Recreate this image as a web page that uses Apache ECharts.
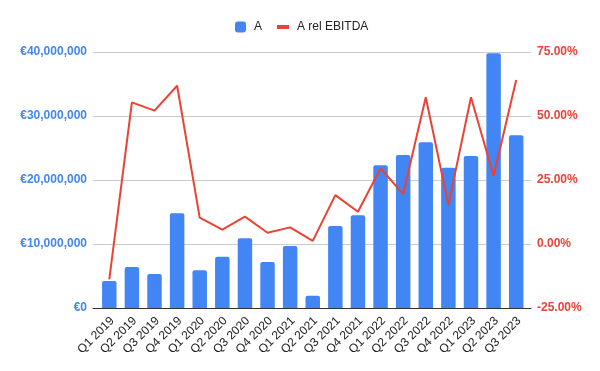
<!DOCTYPE html>
<html><head><meta charset="utf-8">
<script src="https://cdn.jsdelivr.net/npm/echarts@6/dist/echarts.min.js"></script>
<style>html,body{margin:0;padding:0;background:#fff}#c{width:600px;height:371px}</style>
</head><body><div id="c"></div>
<script>
const categories = ['Q1 2019','Q2 2019','Q3 2019','Q4 2019','Q1 2020','Q2 2020','Q3 2020','Q4 2020','Q1 2021','Q2 2021','Q3 2021','Q4 2021','Q1 2022','Q2 2022','Q3 2022','Q4 2022','Q1 2023','Q2 2023','Q3 2023'];
const valuesA = [4200000,6400000,5300000,14800000,5900000,8000000,10900000,7200000,9700000,1900000,12800000,14500000,22300000,23900000,25900000,21900000,23750000,39800000,27000000];
const relEBITDA = [-13.8,55.3,52.1,61.8,10.3,5.6,10.7,4.4,6.5,1.2,19.1,12.6,29.6,19.5,57.3,15.2,57.3,26.6,64.1];
const leftTicks = [0,10000000,20000000,30000000,40000000];
const rightTicks = [-25,0,25,50,75];

const FONT = '"Liberation Sans", Arial, sans-serif';
const lMin = leftTicks[0], lMax = leftTicks[leftTicks.length-1];
const rMin = rightTicks[0], rMax = rightTicks[rightTicks.length-1];
const chart = echarts.init(document.getElementById('c'), null, {renderer:'canvas'});
const hiddenY = (min,max,pos)=>({type:'value',min:min,max:max,position:pos,show:false,splitLine:{show:false}});
chart.setOption({
  animation:false,
  textStyle:{fontFamily:FONT},
  legend:[
    {data:['A'], left:235, top:21, padding:0, itemWidth:11, itemHeight:11, icon:'roundRect',
     textStyle:{fontFamily:FONT,fontSize:12,color:'#222',padding:[0,0,0,3]}},
    {data:['A rel EBITDA'], left:277, top:21, padding:0, itemWidth:12, itemHeight:4, icon:'rect',
     textStyle:{fontFamily:FONT,fontSize:12,color:'#222',padding:[0,0,0,3]}}
  ],
  grid:[
    {left:93,right:69,top:52,bottom:63},
    {left:98,right:72.5,top:52,bottom:63},
    {left:101,right:69.5,top:52,bottom:63}
  ],
  xAxis:[
    {gridIndex:0,type:'category',data:categories,
     axisLine:{lineStyle:{color:'#333',width:1}},axisTick:{show:false},axisLabel:{show:false}},
    {gridIndex:1,type:'category',data:categories,show:false},
    {gridIndex:2,type:'category',data:categories,
     axisLine:{show:false},axisTick:{show:false},
     axisLabel:{rotate:45,interval:0,color:'#222',fontSize:12,fontFamily:FONT,margin:11}}
  ],
  yAxis:[
    {gridIndex:0,type:'value',min:lMin,max:lMax,interval:10000000,
     axisLine:{show:false},axisTick:{show:false},
     splitLine:{lineStyle:{color:'#ccc'}},
     axisLabel:{color:'#4285F4',fontWeight:'bold',fontSize:12,fontFamily:FONT,margin:6,
       formatter:v=>'€'+v.toLocaleString('en-US')}},
    {gridIndex:0,type:'value',min:rMin,max:rMax,interval:25,position:'right',
     axisLine:{show:false},axisTick:{show:false},splitLine:{show:false},
     axisLabel:{color:'#EA4335',fontWeight:'bold',fontSize:12,fontFamily:FONT,margin:6,
       formatter:v=>v.toFixed(2)+'%'}},
    Object.assign({gridIndex:1},hiddenY(lMin,lMax,'left')),
    Object.assign({gridIndex:1},hiddenY(rMin,rMax,'right')),
    Object.assign({gridIndex:2},hiddenY(lMin,lMax,'left'))
  ],
  series:[
    {name:'A',type:'bar',xAxisIndex:1,yAxisIndex:2,data:valuesA,barWidth:'64%',
     itemStyle:{color:'#4285F4',borderRadius:[2,2,0,0]}},
    {name:'A rel EBITDA',type:'line',xAxisIndex:1,yAxisIndex:3,data:relEBITDA,showSymbol:false,symbol:'none',
     lineStyle:{color:'#EA4335',width:2},itemStyle:{color:'#EA4335'}}
  ]
});
</script></body></html>
